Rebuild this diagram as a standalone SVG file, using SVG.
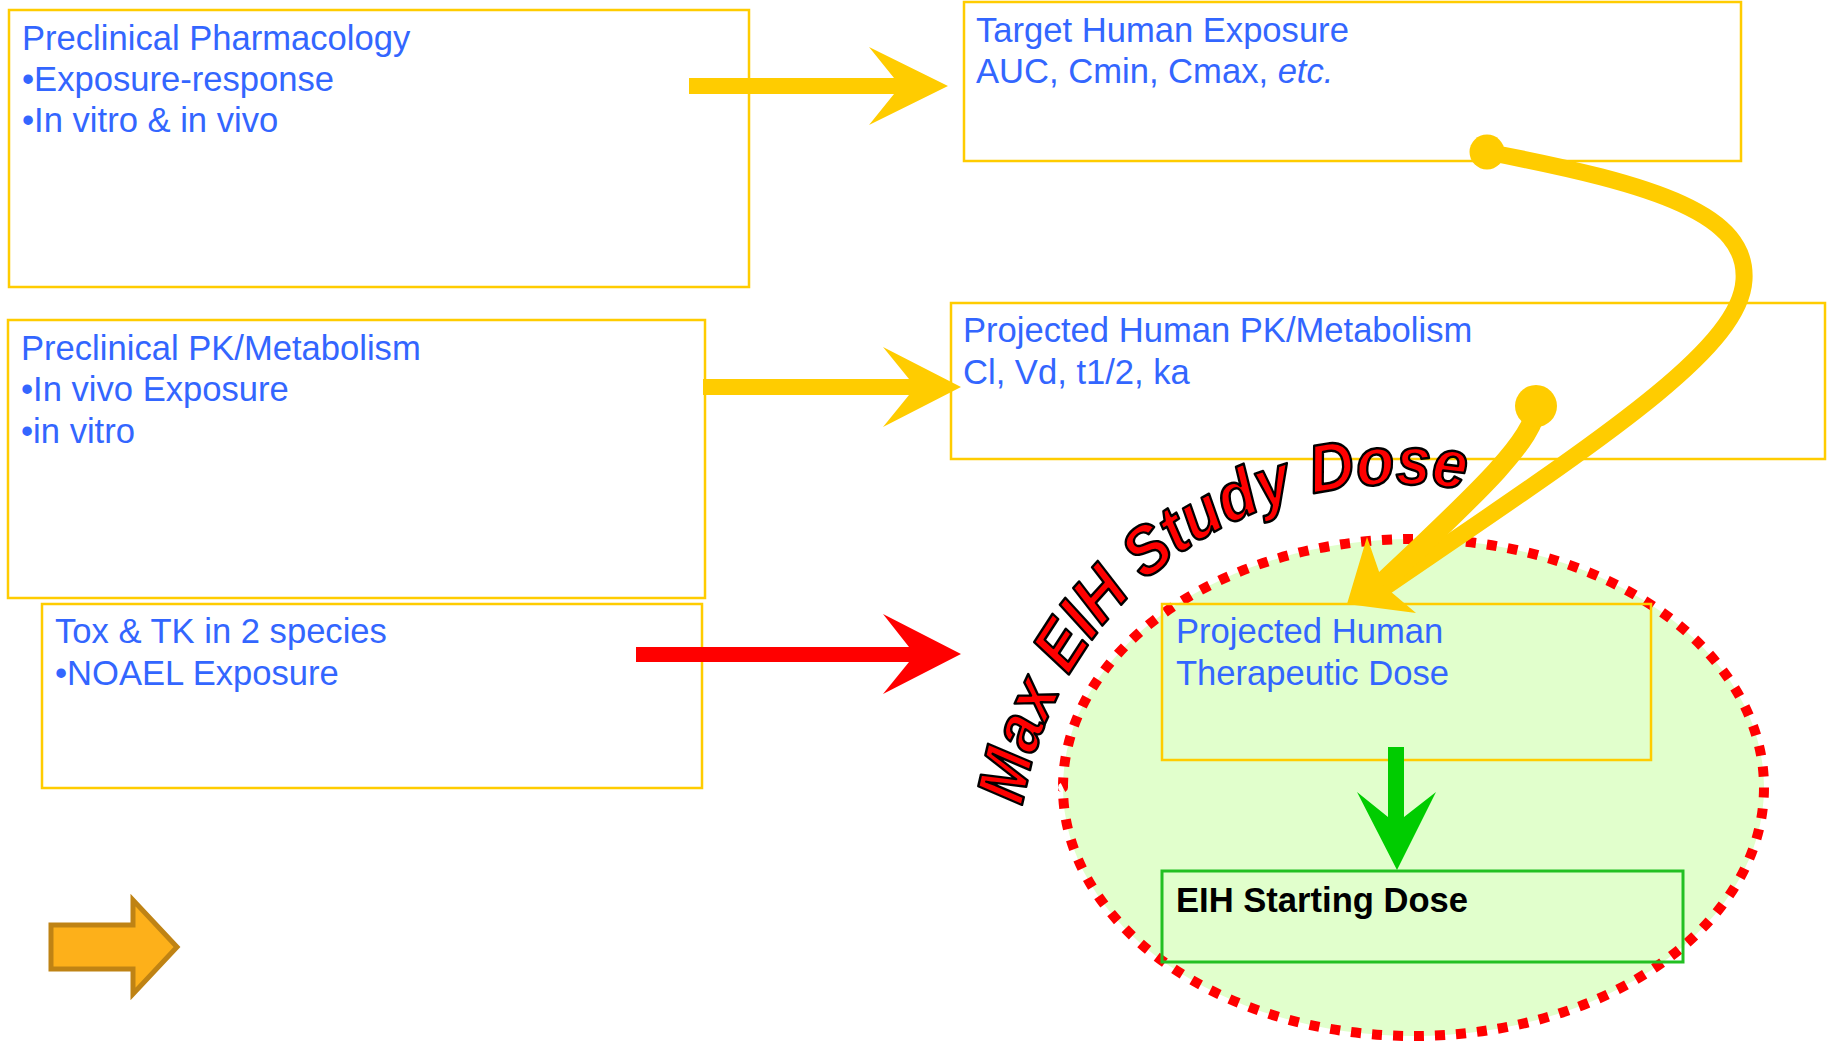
<svg xmlns="http://www.w3.org/2000/svg" width="1827" height="1042" viewBox="0 0 1827 1042">
<defs>
<style>
.box{fill:none;stroke:#FFCC00;stroke-width:2.5}
.lbl{font-family:"Liberation Sans",Arial,Helvetica,sans-serif;font-size:34.6px;fill:#3366FF}
.bold{font-weight:bold;fill:#000}
.yel{fill:#FFCC00}
.curve{fill:none;stroke:#FFCC00;stroke-linecap:butt}
.arc{font-family:"Liberation Sans",Arial,Helvetica,sans-serif;font-size:68px;font-weight:bold;font-style:italic;fill:#FF0000;stroke:#000;stroke-width:2.5;stroke-linejoin:round}
</style>
<path id="arcPath" d="M1022.7,806.2 A382,382 0 0 1 1591,535.2"/>
</defs>
<rect width="1827" height="1042" fill="#FFFFFF"/>

<g id="max-dose-region">
<ellipse cx="1413.5" cy="787.5" rx="350.5" ry="248.5" fill="#E1FFCC" stroke="#FF0000" stroke-width="10" pathLength="1890" stroke-dasharray="10 11"/>
</g>

<g id="node-preclinical-pharmacology">
<rect class="box" x="9" y="10" width="740" height="277"/>
<text class="lbl" x="22" y="50">Preclinical Pharmacology</text>
<text class="lbl" x="22" y="91">•Exposure-response</text>
<text class="lbl" x="22" y="132">•In vitro &amp; in vivo</text>
</g>

<g id="node-target-human-exposure">
<rect class="box" x="964" y="2" width="777" height="159"/>
<text class="lbl" x="976" y="42">Target Human Exposure</text>
<text class="lbl" x="976" y="83">AUC, Cmin, Cmax, <tspan font-style="italic">etc.</tspan></text>
</g>

<g id="node-preclinical-pk">
<rect class="box" x="8" y="320" width="697" height="278"/>
<text class="lbl" x="21" y="360">Preclinical PK/Metabolism</text>
<text class="lbl" x="21" y="401">•In vivo Exposure</text>
<text class="lbl" x="21" y="443">•in vitro</text>
</g>

<g id="node-projected-human-pk">
<rect class="box" x="951" y="303" width="874" height="156"/>
<text class="lbl" x="963" y="342">Projected Human PK/Metabolism</text>
<text class="lbl" x="963" y="384">Cl, Vd, t1/2, ka</text>
</g>

<g id="node-tox-tk">
<rect class="box" x="42" y="604" width="660" height="184"/>
<text class="lbl" x="55" y="643">Tox &amp; TK in 2 species</text>
<text class="lbl" x="55" y="685">•NOAEL Exposure</text>
</g>

<g id="node-projected-therapeutic-dose">
<rect class="box" x="1162" y="604" width="489" height="156"/>
<text class="lbl" x="1176" y="643">Projected Human</text>
<text class="lbl" x="1176" y="685">Therapeutic Dose</text>
</g>

<g id="node-eih-starting-dose">
<rect x="1162" y="871" width="521" height="91" fill="none" stroke="#22C022" stroke-width="3"/>
<text class="lbl bold" x="1176" y="912">EIH Starting Dose</text>
</g>

<g id="legend-arrow">
<polygon points="51,925 133,925 133,900 177,947 133,994 133,969 51,969" fill="#FDB01A" stroke="#BF8314" stroke-width="5" stroke-linejoin="miter"/>
</g>

<g id="connectors">
<polygon class="yel" points="689,78 894,78 869,47 948,86 869,125 894,94 689,94"/>
<polygon class="yel" points="703,379 909,379 883,347 961,387 883,427 909,395 703,395"/>
<polygon fill="#FF0000" points="636,647 909,647 883,614 961,654 883,694 909,662 636,662"/>
<polygon fill="#00CC00" points="1388,747 1404,747 1404,817 1436,792 1397,870 1357,792 1388,817"/>
<path class="curve" stroke-width="17" d="M1487,152 C1660,185 1748,215 1744,280 C1740,350 1600,440 1382,589"/>
<circle class="yel" cx="1487" cy="152" r="17.5"/>
<path class="curve" stroke-width="20" d="M1536,406 C1536,440 1470,500 1380,585"/>
<circle class="yel" cx="1536" cy="406" r="21"/>
<polygon class="yel" points="1347,604 1367,537 1384,586 1416,613"/>
</g>

<g id="label-max-eih-study-dose">
<text class="arc"><textPath href="#arcPath" textLength="605" lengthAdjust="spacingAndGlyphs">Max EIH Study Dose</textPath></text>
</g>
</svg>
